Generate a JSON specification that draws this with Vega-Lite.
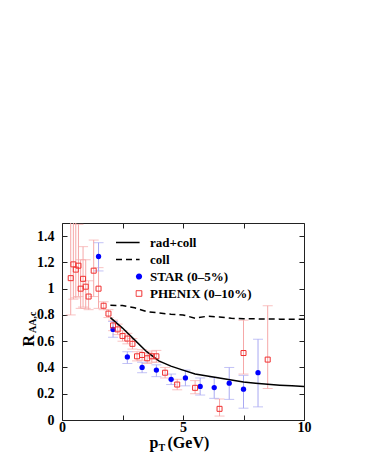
{
  "$schema": "https://vega.github.io/schema/vega-lite/v6.json",
  "width": 242,
  "height": 197,
  "autosize": "none",
  "padding": {"left": 62, "top": 223, "right": 62, "bottom": 53},
  "background": "white",
  "datasets": {
    "phenix": [
      {"pt": 0.36, "r": 1.08, "lo": 0.80, "hi": 1.60, "series": "PHENIX (0–10%)"},
      {"pt": 0.47, "r": 1.185, "lo": 0.92, "hi": 1.60, "series": "PHENIX (0–10%)"},
      {"pt": 0.57, "r": 1.145, "lo": 0.93, "hi": 1.60, "series": "PHENIX (0–10%)"},
      {"pt": 0.68, "r": 1.175, "lo": 0.94, "hi": 1.49, "series": "PHENIX (0–10%)"},
      {"pt": 0.77, "r": 1.0, "lo": 0.85, "hi": 1.22, "series": "PHENIX (0–10%)"},
      {"pt": 0.87, "r": 1.075, "lo": 0.86, "hi": 1.32, "series": "PHENIX (0–10%)"},
      {"pt": 0.98, "r": 1.015, "lo": 0.85, "hi": 1.22, "series": "PHENIX (0–10%)"},
      {"pt": 1.10, "r": 0.94, "lo": 0.84, "hi": 1.06, "series": "PHENIX (0–10%)"},
      {"pt": 1.31, "r": 1.137, "lo": 0.94, "hi": 1.37, "series": "PHENIX (0–10%)"},
      {"pt": 1.51, "r": 1.0, "lo": 0.85, "hi": 1.16, "series": "PHENIX (0–10%)"},
      {"pt": 1.72, "r": 0.87, "lo": 0.84, "hi": 0.90, "series": "PHENIX (0–10%)"},
      {"pt": 1.92, "r": 0.81, "lo": 0.78, "hi": 0.84, "series": "PHENIX (0–10%)"},
      {"pt": 2.11, "r": 0.72, "lo": 0.68, "hi": 0.76, "series": "PHENIX (0–10%)"},
      {"pt": 2.30, "r": 0.69, "lo": 0.65, "hi": 0.73, "series": "PHENIX (0–10%)"},
      {"pt": 2.50, "r": 0.64, "lo": 0.60, "hi": 0.68, "series": "PHENIX (0–10%)"},
      {"pt": 2.70, "r": 0.62, "lo": 0.58, "hi": 0.66, "series": "PHENIX (0–10%)"},
      {"pt": 2.91, "r": 0.58, "lo": 0.54, "hi": 0.62, "series": "PHENIX (0–10%)"},
      {"pt": 3.10, "r": 0.485, "lo": 0.45, "hi": 0.52, "series": "PHENIX (0–10%)"},
      {"pt": 3.31, "r": 0.495, "lo": 0.455, "hi": 0.535, "series": "PHENIX (0–10%)"},
      {"pt": 3.52, "r": 0.47, "lo": 0.43, "hi": 0.51, "series": "PHENIX (0–10%)"},
      {"pt": 3.71, "r": 0.485, "lo": 0.44, "hi": 0.525, "series": "PHENIX (0–10%)"},
      {"pt": 3.90, "r": 0.485, "lo": 0.44, "hi": 0.53, "series": "PHENIX (0–10%)"},
      {"pt": 4.26, "r": 0.36, "lo": 0.32, "hi": 0.40, "series": "PHENIX (0–10%)"},
      {"pt": 4.76, "r": 0.27, "lo": 0.23, "hi": 0.31, "series": "PHENIX (0–10%)"},
      {"pt": 5.50, "r": 0.245, "lo": 0.20, "hi": 0.30, "series": "PHENIX (0–10%)"},
      {"pt": 6.51, "r": 0.085, "lo": 0.03, "hi": 0.16, "series": "PHENIX (0–10%)"},
      {"pt": 7.50, "r": 0.51, "lo": 0.35, "hi": 0.76, "series": "PHENIX (0–10%)"},
      {"pt": 8.50, "r": 0.46, "lo": 0.24, "hi": 0.87, "series": "PHENIX (0–10%)"}
    ],
    "star": [
      {"pt": 1.51, "r": 1.245, "lo": 1.135, "hi": 1.35, "series": "STAR (0–5%)"},
      {"pt": 2.11, "r": 0.69, "lo": 0.63, "hi": 0.75, "series": "STAR (0–5%)"},
      {"pt": 2.70, "r": 0.48, "lo": 0.43, "hi": 0.52, "series": "STAR (0–5%)"},
      {"pt": 3.31, "r": 0.40, "lo": 0.36, "hi": 0.44, "series": "STAR (0–5%)"},
      {"pt": 3.90, "r": 0.38, "lo": 0.33, "hi": 0.42, "series": "STAR (0–5%)"},
      {"pt": 4.51, "r": 0.31, "lo": 0.27, "hi": 0.35, "series": "STAR (0–5%)"},
      {"pt": 5.10, "r": 0.32, "lo": 0.26, "hi": 0.38, "series": "STAR (0–5%)"},
      {"pt": 5.71, "r": 0.256, "lo": 0.19, "hi": 0.32, "series": "STAR (0–5%)"},
      {"pt": 6.29, "r": 0.247, "lo": 0.165, "hi": 0.325, "series": "STAR (0–5%)"},
      {"pt": 6.91, "r": 0.28, "lo": 0.157, "hi": 0.40, "series": "STAR (0–5%)"},
      {"pt": 7.50, "r": 0.235, "lo": 0.09, "hi": 0.34, "series": "STAR (0–5%)"},
      {"pt": 8.10, "r": 0.36, "lo": 0.10, "hi": 0.615, "series": "STAR (0–5%)"}
    ],
    "rad": [
      {"pt": 2.0, "r": 0.78, "series": "rad+coll"},
      {"pt": 2.5, "r": 0.70, "series": "rad+coll"},
      {"pt": 3.0, "r": 0.61, "series": "rad+coll"},
      {"pt": 3.5, "r": 0.52, "series": "rad+coll"},
      {"pt": 4.0, "r": 0.45, "series": "rad+coll"},
      {"pt": 4.5, "r": 0.41, "series": "rad+coll"},
      {"pt": 5.0, "r": 0.38, "series": "rad+coll"},
      {"pt": 5.5, "r": 0.35, "series": "rad+coll"},
      {"pt": 6.0, "r": 0.335, "series": "rad+coll"},
      {"pt": 6.5, "r": 0.32, "series": "rad+coll"},
      {"pt": 7.0, "r": 0.305, "series": "rad+coll"},
      {"pt": 7.5, "r": 0.29, "series": "rad+coll"},
      {"pt": 8.0, "r": 0.28, "series": "rad+coll"},
      {"pt": 8.5, "r": 0.272, "series": "rad+coll"},
      {"pt": 9.0, "r": 0.265, "series": "rad+coll"},
      {"pt": 9.5, "r": 0.26, "series": "rad+coll"},
      {"pt": 10.0, "r": 0.255, "series": "rad+coll"}
    ],
    "coll": [
      {"pt": 2.0, "r": 0.873, "series": "coll"},
      {"pt": 2.5, "r": 0.872, "series": "coll"},
      {"pt": 3.0, "r": 0.855, "series": "coll"},
      {"pt": 3.5, "r": 0.825, "series": "coll"},
      {"pt": 4.0, "r": 0.815, "series": "coll"},
      {"pt": 4.5, "r": 0.805, "series": "coll"},
      {"pt": 5.0, "r": 0.80, "series": "coll"},
      {"pt": 5.5, "r": 0.775, "series": "coll"},
      {"pt": 6.0, "r": 0.79, "series": "coll"},
      {"pt": 6.5, "r": 0.785, "series": "coll"},
      {"pt": 7.0, "r": 0.775, "series": "coll"},
      {"pt": 7.5, "r": 0.77, "series": "coll"},
      {"pt": 8.0, "r": 0.77, "series": "coll"},
      {"pt": 9.0, "r": 0.768, "series": "coll"},
      {"pt": 10.0, "r": 0.768, "series": "coll"}
    ]
  },
  "layer": [
    {
      "data": {"name": "phenix"},
      "mark": {"type": "rule", "color": "#f6a8a8", "strokeWidth": 1, "clip": true},
      "encoding": {
        "x": {"field": "pt", "type": "quantitative", "scale": {"domain": [0, 10], "nice": false, "zero": false},
          "axis": {"orient": "bottom", "values": [0, 2.5, 5, 7.5, 10], "labelExpr": "datum.value % 5 == 0 ? '' + datum.value : ''",
            "tickSize": -5, "labelPadding": 5, "labelFlush": false, "labelOverlap": false, "labelBound": false,
            "title": "p", "titleFontSize": 16, "titleX": 87, "titleY": 27.5, "titleAlign": "left", "titleBaseline": "alphabetic", "titleAngle": 0}},
        "y": {"field": "lo", "type": "quantitative", "scale": {"domain": [0, 1.5], "nice": false, "zero": false},
          "axis": {"orient": "left", "values": [0, 0.2, 0.4, 0.6, 0.8, 1, 1.2, 1.4], "labelExpr": "'' + datum.value",
            "tickSize": -5, "labelPadding": 13, "labelFlush": false, "labelOverlap": false, "labelBound": false,
            "title": "R", "titleFontSize": 16, "titleX": -28.7, "titleY": 123, "titleAlign": "left", "titleBaseline": "alphabetic", "titleAngle": -90}},
        "y2": {"field": "hi"}
      }
    },
    {
      "data": {"name": "phenix"},
      "mark": {"type": "tick", "orient": "horizontal", "color": "#f6a8a8", "size": 10, "thickness": 1, "clip": true},
      "encoding": {
        "x": {"field": "pt", "type": "quantitative", "scale": {"domain": [0, 10], "nice": false, "zero": false},
          "axis": {"orient": "top", "values": [0, 2.5, 5, 7.5, 10], "labels": false, "tickSize": -5, "title": null}},
        "y": {"field": "lo", "type": "quantitative", "scale": {"domain": [0, 1.5], "nice": false, "zero": false},
          "axis": {"orient": "right", "values": [0, 0.2, 0.4, 0.6, 0.8, 1, 1.2, 1.4], "labels": false, "tickSize": -5, "title": null}}
      }
    },
    {
      "data": {"name": "phenix"},
      "mark": {"type": "tick", "orient": "horizontal", "color": "#f6a8a8", "size": 10, "thickness": 1, "clip": true},
      "encoding": {
        "x": {"field": "pt", "type": "quantitative", "scale": {"domain": [0, 10], "nice": false, "zero": false},
          "axis": {"orient": "bottom", "labels": false, "ticks": false, "domain": false, "grid": false,
            "title": "T", "titleFontSize": 10, "titleX": 96, "titleY": 30.5, "titleAlign": "left", "titleBaseline": "alphabetic", "titleAngle": 0}},
        "y": {"field": "hi", "type": "quantitative", "scale": {"domain": [0, 1.5], "nice": false, "zero": false},
          "axis": {"orient": "left", "labels": false, "ticks": false, "domain": false, "grid": false,
            "title": "AA,c", "titleFontSize": 10, "titleX": -27, "titleY": 109.5, "titleAlign": "left", "titleBaseline": "alphabetic", "titleAngle": -90}}
      }
    },
    {
      "data": {"name": "star"},
      "mark": {"type": "rule", "color": "#a9a9f2", "strokeWidth": 1, "clip": true},
      "encoding": {
        "x": {"field": "pt", "type": "quantitative", "scale": {"domain": [0, 10], "nice": false, "zero": false},
          "axis": {"orient": "bottom", "labels": false, "ticks": false, "domain": false, "grid": false,
            "title": "(GeV)", "titleFontSize": 16, "titleX": 105, "titleY": 27.5, "titleAlign": "left", "titleBaseline": "alphabetic", "titleAngle": 0}},
        "y": {"field": "lo", "type": "quantitative", "scale": {"domain": [0, 1.5], "nice": false, "zero": false}, "axis": null},
        "y2": {"field": "hi"}
      }
    },
    {
      "data": {"name": "star"},
      "mark": {"type": "tick", "orient": "horizontal", "color": "#a9a9f2", "size": 10, "thickness": 1, "clip": true},
      "encoding": {
        "x": {"field": "pt", "type": "quantitative", "scale": {"domain": [0, 10], "nice": false, "zero": false}, "axis": null},
        "y": {"field": "lo", "type": "quantitative", "scale": {"domain": [0, 1.5], "nice": false, "zero": false}, "axis": null}
      }
    },
    {
      "data": {"name": "star"},
      "mark": {"type": "tick", "orient": "horizontal", "color": "#a9a9f2", "size": 10, "thickness": 1, "clip": true},
      "encoding": {
        "x": {"field": "pt", "type": "quantitative", "scale": {"domain": [0, 10], "nice": false, "zero": false}, "axis": null},
        "y": {"field": "hi", "type": "quantitative", "scale": {"domain": [0, 1.5], "nice": false, "zero": false}, "axis": null}
      }
    },
    {
      "data": {"name": "rad"},
      "mark": {"type": "line", "strokeWidth": 1.5, "clip": true},
      "encoding": {
        "x": {"field": "pt", "type": "quantitative", "scale": {"domain": [0, 10], "nice": false, "zero": false}, "axis": null},
        "y": {"field": "r", "type": "quantitative", "scale": {"domain": [0, 1.5], "nice": false, "zero": false}, "axis": null},
        "color": {"field": "series", "type": "nominal",
          "scale": {"domain": ["rad+coll", "coll", "STAR (0–5%)", "PHENIX (0–10%)"], "range": ["black", "black", "#0000ff", "#f03030"]},
          "legend": {
            "orient": "none", "legendX": 54, "legendY": 13, "title": null, "direction": "vertical", "padding": 0,
            "symbolSize": 100, "labelOffset": 21, "rowPadding": 3,
            "labelFont": "Liberation Serif", "labelFontWeight": "bold", "labelFontSize": 13, "labelColor": "black", "labelLimit": 0,
            "encode": {
              "symbols": {
                "update": {
                  "shape": {"signal": "datum.value == 'STAR (0–5%)' ? 'circle' : (datum.value == 'PHENIX (0–10%)' ? 'square' : 'stroke')"},
                  "size": {"signal": "datum.value == 'STAR (0–5%)' ? 22 : (datum.value == 'PHENIX (0–10%)' ? 32 : 557)"},
                  "x": {"signal": "datum.value == 'STAR (0–5%)' || datum.value == 'PHENIX (0–10%)' ? 23 : 11.8"},
                  "fill": {"signal": "datum.value == 'STAR (0–5%)' ? '#0000ff' : 'white'"},
                  "fillOpacity": {"signal": "datum.value == 'STAR (0–5%)' ? 1 : 0"},
                  "stroke": {"signal": "datum.value == 'STAR (0–5%)' ? 'transparent' : (datum.value == 'PHENIX (0–10%)' ? '#f03030' : 'black')"},
                  "strokeWidth": {"signal": "datum.value == 'PHENIX (0–10%)' ? 1 : 1.5"},
                  "strokeDash": {"signal": "datum.value == 'coll' ? [6, 4] : [1, 0]"},
                  "opacity": {"value": 1}
                }
              }
            }
          }
        }
      }
    },
    {
      "data": {"name": "coll"},
      "mark": {"type": "line", "strokeWidth": 1.5, "strokeDash": [6, 4], "clip": true},
      "encoding": {
        "x": {"field": "pt", "type": "quantitative", "scale": {"domain": [0, 10], "nice": false, "zero": false}, "axis": null},
        "y": {"field": "r", "type": "quantitative", "scale": {"domain": [0, 1.5], "nice": false, "zero": false}, "axis": null},
        "color": {"field": "series", "type": "nominal"}
      }
    },
    {
      "data": {"name": "star"},
      "mark": {"type": "point", "shape": "circle", "filled": true, "size": 28, "opacity": 1, "clip": true},
      "encoding": {
        "x": {"field": "pt", "type": "quantitative", "scale": {"domain": [0, 10], "nice": false, "zero": false}, "axis": null},
        "y": {"field": "r", "type": "quantitative", "scale": {"domain": [0, 1.5], "nice": false, "zero": false}, "axis": null},
        "color": {"field": "series", "type": "nominal"}
      }
    },
    {
      "data": {"name": "phenix"},
      "mark": {"type": "point", "shape": "square", "filled": false, "size": 25, "strokeWidth": 1, "opacity": 1, "clip": true},
      "encoding": {
        "x": {"field": "pt", "type": "quantitative", "scale": {"domain": [0, 10], "nice": false, "zero": false}, "axis": null},
        "y": {"field": "r", "type": "quantitative", "scale": {"domain": [0, 1.5], "nice": false, "zero": false}, "axis": null},
        "color": {"field": "series", "type": "nominal"}
      }
    }
  ],
  "resolve": {"axis": {"x": "independent", "y": "independent"}},
  "config": {
    "view": {"stroke": "#222222", "strokeWidth": 1},
    "axis": {"domain": false, "grid": false, "tickColor": "#222222", "tickWidth": 1,
      "labelFont": "Liberation Serif", "labelFontWeight": "bold", "labelFontSize": 14, "labelColor": "black",
      "titleFont": "Liberation Serif", "titleFontWeight": "bold", "titleColor": "black"}
  }
}
